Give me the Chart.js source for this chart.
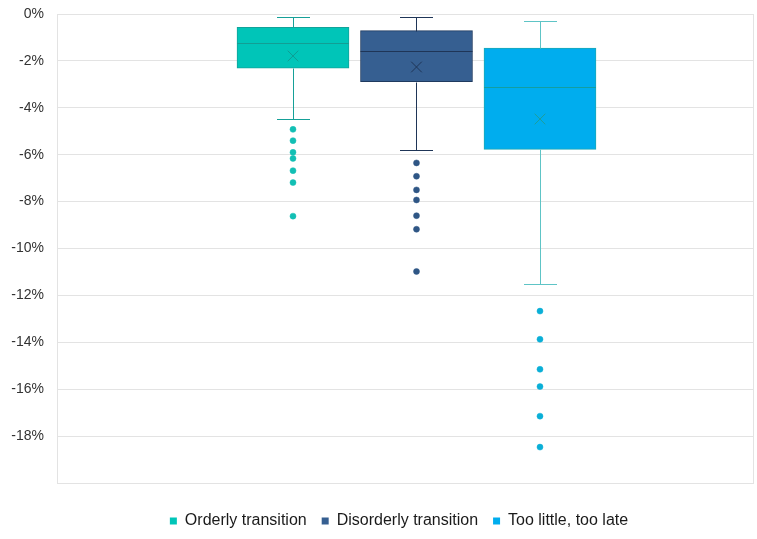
<!DOCTYPE html>
<html>
<head>
<meta charset="utf-8">
<script src="https://cdn.jsdelivr.net/npm/chart.js@4/dist/chart.umd.min.js"></script>
<style>
html,body{margin:0;padding:0;background:#fff;}
#wrap{width:757px;height:539px;position:relative;}
</style>
</head>
<body>
<div id="wrap"><canvas id="c"></canvas></div>
<script>
// ---- data (values in %) ----
const seriesNames = ['Orderly transition', 'Disorderly transition', 'Too little, too late'];
const positions = [1, 2, 3];
const whiskerHigh = [-0.13, -0.13, -0.31];
const q3 = [-0.57, -0.71, -1.45];
const median = [-1.23, -1.59, -3.12];
const mean = [-1.79, -2.26, -4.48];
const q1 = [-2.31, -2.89, -5.77];
const whiskerLow = [-4.47, -5.79, -11.53];
const outliersOrderly = [-4.92, -5.40, -5.90, -6.16, -6.68, -7.19, -8.62];
const outliersDisorderly = [-6.35, -6.92, -7.50, -7.93, -8.60, -9.18, -10.98];
const outliersLate = [-12.67, -13.87, -15.15, -15.89, -17.15, -18.47];
const outliers = [outliersOrderly, outliersDisorderly, outliersLate];
const yTicks = [-20, -18, -16, -14, -12, -10, -8, -6, -4, -2, 0];

// ---- styles ----
const fills = ['#00C5B8', '#365F91', '#00ADEE'];
const borders = ['#12A39A', '#1F3A5F', '#1CA9B6'];
const whiskerColors = ['#16A098', '#1F3557', '#5EC4C6'];
const medianColors = ['#129E94', '#1F3557', '#139EA0'];
const meanColors = ['#0E9E94', '#1F3557', '#1E9E9A'];
const dotColors = ['#12BFB4', '#2F5685', '#0AAFD7'];
const FONT = '"Liberation Sans", Arial, sans-serif';

const datasets = [];
seriesNames.forEach((name, i) => {
  datasets.push({
    type: 'bar',
    label: name,
    data: [{x: positions[i], y: [q1[i], q3[i]]}],
    backgroundColor: fills[i],
    borderColor: borders[i],
    borderWidth: 1,
    borderSkipped: false,
    grouped: false,
    barThickness: 112,
    order: 3
  });
});
seriesNames.forEach((name, i) => {
  datasets.push({
    type: 'scatter',
    label: name + ' mean',
    data: [{x: positions[i], y: mean[i]}],
    pointStyle: 'crossRot',
    pointRadius: 7.5,
    borderColor: meanColors[i],
    borderWidth: 1,
    backgroundColor: meanColors[i],
    order: 1
  });
  datasets.push({
    type: 'scatter',
    label: name + ' outliers',
    data: outliers[i].map(v => ({x: positions[i], y: v})),
    pointStyle: 'circle',
    pointRadius: 3,
    backgroundColor: dotColors[i],
    borderColor: dotColors[i],
    borderWidth: 0.5,
    order: 1
  });
});

const boxPlugin = {
  id: 'boxParts',
  afterLayout(chart) {
    // shift the legend block to the right, as in the reference
    if (chart.legend) { chart.legend.left += 44; }
  },
  beforeDatasetsDraw(chart) {
    const {ctx, chartArea} = chart;
    ctx.save();
    ctx.strokeStyle = '#E3E3E3';
    ctx.lineWidth = 1;
    ctx.beginPath();
    ctx.moveTo(Math.round(chartArea.right) - 0.5, chartArea.top);
    ctx.lineTo(Math.round(chartArea.right) - 0.5, chartArea.bottom);
    ctx.stroke();
    ctx.restore();
  },
  afterDatasetsDraw(chart) {
    const {ctx} = chart;
    const ys = chart.scales.y;
    const capHalf = 16.5;
    ctx.save();
    ctx.lineWidth = 1;
    seriesNames.forEach((name, i) => {
      const bar = chart.getDatasetMeta(i).data[0];
      const x = Math.round(bar.x) + 0.5;
      const left = bar.x - bar.width / 2, right = bar.x + bar.width / 2;
      const py = v => Math.round(ys.getPixelForValue(v)) + 0.5;
      ctx.strokeStyle = whiskerColors[i];
      ctx.beginPath();
      ctx.moveTo(x, py(q3[i])); ctx.lineTo(x, py(whiskerHigh[i]));
      ctx.moveTo(x - capHalf, py(whiskerHigh[i])); ctx.lineTo(x + capHalf, py(whiskerHigh[i]));
      ctx.moveTo(x, py(q1[i])); ctx.lineTo(x, py(whiskerLow[i]));
      ctx.moveTo(x - capHalf, py(whiskerLow[i])); ctx.lineTo(x + capHalf, py(whiskerLow[i]));
      ctx.stroke();
      ctx.strokeStyle = medianColors[i];
      ctx.beginPath();
      ctx.moveTo(left, py(median[i])); ctx.lineTo(right, py(median[i]));
      ctx.stroke();
    });
    ctx.restore();
  }
};

new Chart(document.getElementById('c'), {
  type: 'bar',
  data: {datasets},
  plugins: [boxPlugin],
  options: {
    responsive: true,
    maintainAspectRatio: false,
    animation: false,
    layout: {autoPadding: false, padding: {top: 14, right: 3, left: 0, bottom: 0}},
    scales: {
      x: {
        type: 'linear',
        min: -0.911,
        max: 4.733,
        offset: false,
        afterBuildTicks: s => { s.ticks = positions.map(v => ({value: v})); },
        ticks: {display: false},
        grid: {display: false, drawTicks: false},
        border: {display: false},
        title: {display: true, text: ' ', font: {size: 10, family: FONT}, padding: {top: 3, bottom: 0}}
      },
      y: {
        min: -20,
        max: 0,
        afterBuildTicks: s => { s.ticks = yTicks.map(v => ({value: v})); },
        afterFit: s => { s.width = 57; s.paddingTop = 0; s.paddingBottom = 0; },
        ticks: {
          padding: 13,
          color: '#333333',
          font: {size: 14, family: FONT},
          callback: v => (v === -20 ? '' : v + '%')
        },
        grid: {color: '#E3E3E3', lineWidth: 1, drawTicks: false},
        border: {display: true, color: '#E3E3E3'}
      }
    },
    plugins: {
      tooltip: {enabled: false},
      legend: {
        position: 'bottom',
        labels: {
          color: '#1A1A1A',
          font: {size: 16, family: FONT},
          boxWidth: 7,
          boxHeight: 7,
          padding: 15,
          filter: item => item.datasetIndex < 3,
          generateLabels: chart => {
            const items = Chart.defaults.plugins.legend.labels.generateLabels(chart);
            items.forEach(it => { it.lineWidth = 0; });
            return items;
          }
        }
      }
    }
  }
});
</script>
</body>
</html>
